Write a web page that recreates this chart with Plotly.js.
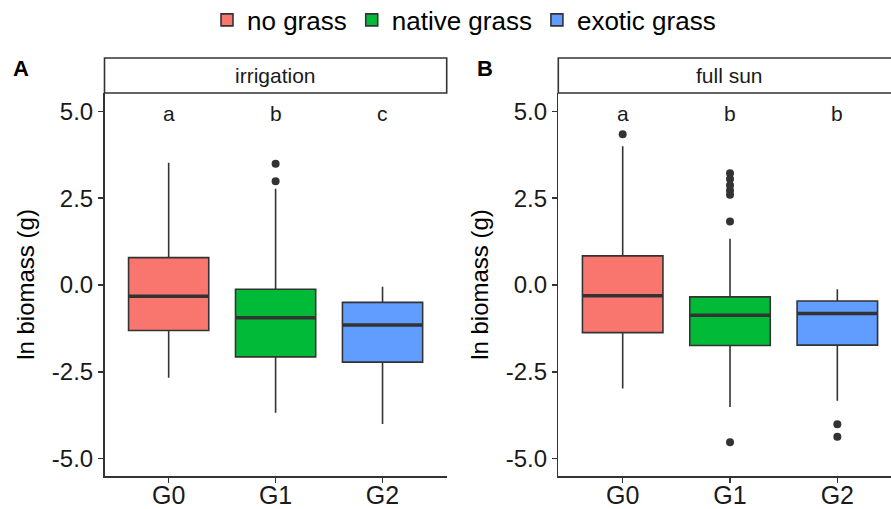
<!DOCTYPE html>
<html>
<head>
<meta charset="utf-8">
<script src="https://cdn.plot.ly/plotly-3.0.1.min.js"></script>
<style>
  html, body { margin: 0; padding: 0; background: #ffffff; overflow: hidden; }
  #chart { width: 891px; height: 509px; }
</style>
</head>
<body>
<div id="chart"></div>
<script>
// ---------------- DATA ----------------
const categories = ['G0', 'G1', 'G2'];
const seriesNames = ['no grass', 'native grass', 'exotic grass'];
const seriesColors = ['#F8766D', '#00BA38', '#619CFF'];
const panelTitles = ['irrigation', 'full sun'];
const panelLetters = ['A', 'B'];
const yTickVals = [5, 2.5, 0, -2.5, -5];
const yTickText = ['5.0', '2.5', '0.0', '-2.5', '-5.0'];

// Panel A: irrigation
const irrQ1 = [-1.31, -2.07, -2.22];
const irrMedian = [-0.32, -0.94, -1.15];
const irrQ3 = [0.79, -0.12, -0.50];
const irrLower = [-2.67, -3.68, -4.00];
const irrUpper = [3.52, 2.77, -0.05];
const irrOutliers = [[], [3.49, 2.99], []];
const irrLetters = ['a', 'b', 'c'];

// Panel B: full sun
const sunQ1 = [-1.37, -1.74, -1.73];
const sunMedian = [-0.31, -0.87, -0.82];
const sunQ3 = [0.84, -0.34, -0.46];
const sunLower = [-2.98, -3.51, -3.33];
const sunUpper = [4.00, 1.33, -0.12];
const sunOutliers = [[4.34], [3.22, 3.05, 2.87, 2.72, 2.60, 1.83, -4.53], [-4.01, -4.37]];
const sunLetters = ['a', 'b', 'b'];

// ---------------- BUILD ----------------
const FONT = 'Liberation Sans, Arial, sans-serif';
const INK = '#333333';
const BOXW = 0.75;

const panels = [
  {q1: irrQ1, med: irrMedian, q3: irrQ3, lo: irrLower, hi: irrUpper, out: irrOutliers, letters: irrLetters, xa: 'x', ya: 'y'},
  {q1: sunQ1, med: sunMedian, q3: sunQ3, lo: sunLower, hi: sunUpper, out: sunOutliers, letters: sunLetters, xa: 'x2', ya: 'y2'}
];

const traces = [];
const shapes = [];
const annotations = [];

panels.forEach((p, pi) => {
  categories.forEach((cat, i) => {
    traces.push({
      type: 'box',
      name: seriesNames[i],
      legendgroup: seriesNames[i],
      showlegend: pi === 0,
      xaxis: p.xa, yaxis: p.ya,
      x: [cat],
      q1: [p.q1[i]], median: [p.med[i]], q3: [p.q3[i]],
      lowerfence: [p.lo[i]], upperfence: [p.hi[i]],
      width: BOXW,
      whiskerwidth: 0,
      fillcolor: seriesColors[i],
      line: {color: INK, width: 1.6},
      boxpoints: false,
      hoverinfo: 'skip'
    });
    // thicker median line (ggplot style)
    shapes.push({
      type: 'line', xref: p.xa, yref: p.ya,
      x0: i - BOXW / 2, x1: i + BOXW / 2,
      y0: p.med[i], y1: p.med[i],
      line: {color: INK, width: 3.5}
    });
    if (p.out[i].length) {
      traces.push({
        type: 'scatter', mode: 'markers',
        xaxis: p.xa, yaxis: p.ya,
        x: p.out[i].map(() => cat), y: p.out[i],
        marker: {color: INK, size: 8},
        showlegend: false, hoverinfo: 'skip'
      });
    }
    annotations.push({
      xref: p.xa, yref: p.ya, x: cat, y: 4.95,
      text: p.letters[i], showarrow: false,
      xanchor: 'center', yanchor: 'middle',
      font: {family: FONT, size: 21, color: '#1a1a1a'}
    });
  });
});

// Strip boxes + titles (paper coords)
const W = 891, H = 509;
const stripTop = 1 - 58 / H, stripBot = 1 - 93 / H;
const stripX = [[104.5 / W, 446.7 / W], [558.3 / W, 1.02]];
stripX.forEach((sx, k) => {
  shapes.push({
    type: 'rect', xref: 'paper', yref: 'paper',
    x0: sx[0], x1: sx[1], y0: stripBot, y1: stripTop,
    fillcolor: '#ffffff', line: {color: INK, width: 1.6}
  });
  const cx = k === 0 ? (sx[0] + sx[1]) / 2 : (558.3 + 342 / 2) / W;
  annotations.push({
    xref: 'paper', yref: 'paper', x: cx, y: (stripTop + stripBot) / 2,
    text: panelTitles[k], showarrow: false, xanchor: 'center', yanchor: 'middle',
    font: {family: FONT, size: 21, color: '#1a1a1a'}
  });
});

// Panel letters
[[21 / W], [485 / W]].forEach((pos, k) => {
  annotations.push({
    xref: 'paper', yref: 'paper', x: pos[0], y: 1 - 68 / H,
    text: '<b>' + panelLetters[k] + '</b>', showarrow: false,
    xanchor: 'center', yanchor: 'middle',
    font: {family: FONT, size: 22, color: '#000000'}
  });
});

const yDomain = [33 / H, 1 - 93 / H];
const yRange = [-5.5, 5.53];

function yAxis(anchor) {
  return {
    domain: yDomain, range: yRange, anchor: anchor,
    tickmode: 'array', tickvals: yTickVals, ticktext: yTickText,
    ticks: 'outside', ticklen: 5, tickwidth: 1.5, tickcolor: INK,
    showline: true, linecolor: INK, linewidth: 1.5,
    showgrid: false, zeroline: false,
    tickfont: {family: FONT, size: 24, color: '#1a1a1a'},
    title: {text: 'ln biomass (g)', font: {family: FONT, size: 24, color: '#000000'}, standoff: 10}
  };
}
function xAxis(domain, range, anchor) {
  return {
    domain: domain, range: range, anchor: anchor,
    type: 'category', categoryorder: 'array', categoryarray: categories,
    ticks: 'outside', ticklen: 5, tickwidth: 1.5, tickcolor: INK,
    ticklabelstandoff: -9,
    showline: true, linecolor: INK, linewidth: 1.5,
    showgrid: false, zeroline: false,
    tickfont: {family: FONT, size: 25, color: '#1a1a1a'}
  };
}

const layout = {
  width: W, height: H,
  margin: {l: 0, r: 0, t: 0, b: 0, autoexpand: false},
  paper_bgcolor: '#ffffff', plot_bgcolor: '#ffffff',
  showlegend: true,
  boxmode: 'overlay',
  legend: {
    orientation: 'h', x: 464 / W, xanchor: 'center', y: 1 - 20 / H, yanchor: 'middle',
    font: {family: FONT, size: 26, color: '#000000'},
    itemwidth: 30, tracegroupgap: 0
  },
  xaxis: xAxis([104.5 / W, 446.7 / W], [-0.6, 2.6], 'y'),
  yaxis: yAxis('x'),
  xaxis2: xAxis([558.3 / W, 1], [-0.6, 2.5], 'y2'),
  yaxis2: yAxis('x2'),
  shapes: shapes,
  annotations: annotations
};

Plotly.newPlot('chart', traces, layout, {displayModeBar: false, staticPlot: true});
</script>
</body>
</html>
